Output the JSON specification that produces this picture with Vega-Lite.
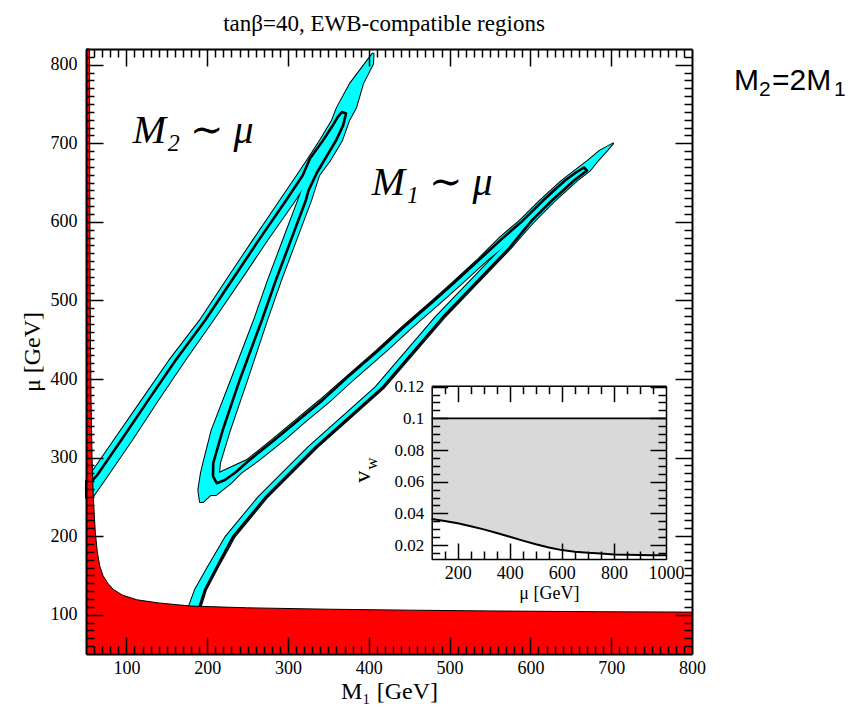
{
  "$schema": "https://vega.github.io/schema/vega-lite/v6.json",
  "width": 606,
  "height": 605,
  "autosize": "none",
  "padding": {"left": 86, "top": 49, "right": 169, "bottom": 56},
  "background": "white",
  "title": {
    "text": "tanβ=40, EWB-compatible regions",
    "font": "Liberation Serif",
    "fontSize": 23,
    "fontWeight": "normal",
    "color": "black",
    "anchor": "middle",
    "offset": 11,
    "dx": -5
  },
  "config": {
    "view": {"stroke": null},
    "axis": {
      "zindex": 1,
      "grid": false,
      "domainColor": "black",
      "domainWidth": 2,
      "tickColor": "black",
      "tickWidth": 1.5,
      "labelColor": "black",
      "labelFont": "Liberation Serif",
      "labelFontSize": 18,
      "labelFlush": false,
      "labelOverlap": false,
      "titleColor": "black",
      "titleFont": "Liberation Serif",
      "titleFontWeight": "normal"
    }
  },
  "datasets": {
    "cyan": [
      {"part": "A", "mu": 248.6, "lo": 50, "hi": 57.4},
      {"part": "A", "mu": 270.0, "lo": 50, "hi": 71.9},
      {"part": "A", "mu": 277.8, "lo": 55.0, "hi": 77.2},
      {"part": "A", "mu": 322.3, "lo": 84.9, "hi": 106.9},
      {"part": "A", "mu": 373.1, "lo": 119.1, "hi": 139.1},
      {"part": "A", "mu": 423.9, "lo": 153.2, "hi": 172.5},
      {"part": "A", "mu": 474.8, "lo": 191.1, "hi": 207.2},
      {"part": "A", "mu": 534.5, "lo": 229.5, "hi": 246.8},
      {"part": "A", "mu": 576.4, "lo": 256.7, "hi": 274.0},
      {"part": "A", "mu": 627.2, "lo": 290.1, "hi": 308.7},
      {"part": "A", "mu": 659.0, "lo": 311.1, "hi": 328.5},
      {"part": "A", "mu": 678.1, "lo": 323.5, "hi": 352.0},
      {"part": "A", "mu": 703.5, "lo": 339.6, "hi": 366.8},
      {"part": "A", "mu": 728.9, "lo": 354.4, "hi": 375.5},
      {"part": "A", "mu": 745.4, "lo": 360.6, "hi": 384.2},
      {"part": "A", "mu": 775.9, "lo": 376.7, "hi": 392.8},
      {"part": "A", "mu": 801.3, "lo": 395.3, "hi": 405.2},
      {"part": "A", "mu": 814.0, "lo": 404.6, "hi": 405.8},
      {"part": "V", "mu": 243.5, "lo": 191.1, "hi": 194.8},
      {"part": "V", "mu": 258.8, "lo": 189.0, "hi": 210.9},
      {"part": "V", "mu": 280.4, "lo": 192.3, "hi": 214.6},
      {"part": "V", "mu": 293.1, "lo": 195.2, "hi": 215.8},
      {"part": "V", "mu": 335.0, "lo": 205.6, "hi": 228.2},
      {"part": "V", "mu": 398.5, "lo": 229.5, "hi": 249.3},
      {"part": "V", "mu": 474.8, "lo": 257.9, "hi": 274.0},
      {"part": "V", "mu": 525.6, "lo": 275.2, "hi": 291.3},
      {"part": "V", "mu": 576.4, "lo": 293.8, "hi": 309.9},
      {"part": "V", "mu": 627.2, "lo": 312.4, "hi": 328.5},
      {"part": "V", "mu": 659.0, "lo": 323.5, "hi": 338.4},
      {"part": "V", "mu": 678.1, "lo": 327.2, "hi": 352.0},
      {"part": "R", "mu": 252.4, "lo": 189.9, "hi": 210.9},
      {"part": "R", "mu": 267.7, "lo": 205.9, "hi": 229.5},
      {"part": "R", "mu": 280.4, "lo": 214.6, "hi": 241.8},
      {"part": "R", "mu": 296.9, "lo": 249.3, "hi": 264.1},
      {"part": "R", "mu": 322.3, "lo": 280.2, "hi": 295.0},
      {"part": "R", "mu": 347.7, "lo": 309.9, "hi": 323.5},
      {"part": "R", "mu": 373.1, "lo": 339.6, "hi": 353.2},
      {"part": "R", "mu": 401.1, "lo": 370.5, "hi": 382.9},
      {"part": "R", "mu": 436.6, "lo": 410.1, "hi": 422.5},
      {"part": "R", "mu": 465.9, "lo": 441.1, "hi": 453.5},
      {"part": "R", "mu": 500.2, "lo": 479.4, "hi": 491.8},
      {"part": "R", "mu": 521.8, "lo": 503.0, "hi": 515.3},
      {"part": "R", "mu": 551.0, "lo": 533.9, "hi": 546.3},
      {"part": "R", "mu": 580.2, "lo": 562.4, "hi": 580.9},
      {"part": "R", "mu": 601.8, "lo": 587.1, "hi": 605.7},
      {"part": "R", "mu": 627.2, "lo": 611.9, "hi": 630.4},
      {"part": "R", "mu": 652.6, "lo": 639.1, "hi": 657.7},
      {"part": "R", "mu": 665.4, "lo": 655.2, "hi": 673.8},
      {"part": "R", "mu": 678.1, "lo": 671.3, "hi": 683.7},
      {"part": "R", "mu": 690.8, "lo": 686.1, "hi": 694.8},
      {"part": "R", "mu": 699.7, "lo": 702.2, "hi": 702.2},
      {"part": "D", "mu": 103.8, "lo": 175.0, "hi": 189.9},
      {"part": "D", "mu": 131.7, "lo": 184.9, "hi": 198.5},
      {"part": "D", "mu": 160.9, "lo": 201.0, "hi": 213.4},
      {"part": "D", "mu": 199.0, "lo": 222.6, "hi": 233.8},
      {"part": "D", "mu": 249.9, "lo": 263.5, "hi": 274.6},
      {"part": "D", "mu": 313.4, "lo": 325.4, "hi": 336.5},
      {"part": "D", "mu": 389.6, "lo": 408.3, "hi": 419.4},
      {"part": "D", "mu": 478.6, "lo": 482.5, "hi": 493.7},
      {"part": "D", "mu": 567.5, "lo": 565.5, "hi": 576.6},
      {"part": "D", "mu": 580.2, "lo": 574.7, "hi": 587.1},
      {"part": "D", "mu": 601.8, "lo": 587.1, "hi": 605.7}
    ],
    "contour": [
      {"i": 1, "m1": 50.0, "mu": 261.3},
      {"i": 2, "m1": 63.9, "mu": 277.8},
      {"i": 3, "m1": 93.7, "mu": 322.3},
      {"i": 4, "m1": 127.1, "mu": 373.1},
      {"i": 5, "m1": 160.9, "mu": 423.9},
      {"i": 6, "m1": 197.5, "mu": 474.8},
      {"i": 7, "m1": 236.4, "mu": 534.5},
      {"i": 8, "m1": 263.6, "mu": 576.4},
      {"i": 9, "m1": 297.5, "mu": 627.2},
      {"i": 10, "m1": 318.1, "mu": 659.0},
      {"i": 11, "m1": 327.2, "mu": 680.6},
      {"i": 12, "m1": 343.3, "mu": 703.5},
      {"i": 13, "m1": 354.5, "mu": 721.3},
      {"i": 14, "m1": 361.9, "mu": 734.0},
      {"i": 15, "m1": 366.8, "mu": 739.7},
      {"i": 16, "m1": 371.8, "mu": 737.8},
      {"i": 17, "m1": 368.1, "mu": 722.5},
      {"i": 18, "m1": 359.4, "mu": 703.5},
      {"i": 19, "m1": 348.3, "mu": 684.4},
      {"i": 20, "m1": 335.9, "mu": 662.8},
      {"i": 21, "m1": 325.4, "mu": 640.0},
      {"i": 22, "m1": 322.0, "mu": 627.2},
      {"i": 23, "m1": 303.5, "mu": 576.4},
      {"i": 24, "m1": 284.9, "mu": 525.6},
      {"i": 25, "m1": 267.6, "mu": 474.8},
      {"i": 26, "m1": 240.1, "mu": 398.5},
      {"i": 27, "m1": 219.2, "mu": 335.0},
      {"i": 28, "m1": 207.5, "mu": 293.1},
      {"i": 29, "m1": 207.2, "mu": 276.5},
      {"i": 30, "m1": 211.8, "mu": 267.3},
      {"i": 31, "m1": 222.0, "mu": 271.5},
      {"i": 32, "m1": 235.6, "mu": 281.6},
      {"i": 33, "m1": 252.3, "mu": 296.9},
      {"i": 34, "m1": 283.3, "mu": 322.3},
      {"i": 35, "m1": 313.0, "mu": 347.7},
      {"i": 36, "m1": 342.7, "mu": 373.1},
      {"i": 37, "m1": 372.4, "mu": 401.1},
      {"i": 38, "m1": 412.0, "mu": 436.6},
      {"i": 39, "m1": 442.9, "mu": 465.9},
      {"i": 40, "m1": 481.3, "mu": 500.2},
      {"i": 41, "m1": 504.8, "mu": 521.8},
      {"i": 42, "m1": 535.8, "mu": 551.0},
      {"i": 43, "m1": 566.7, "mu": 580.2},
      {"i": 44, "m1": 590.8, "mu": 601.8},
      {"i": 45, "m1": 615.6, "mu": 627.2},
      {"i": 46, "m1": 642.8, "mu": 652.6},
      {"i": 47, "m1": 656.4, "mu": 662.8},
      {"i": 48, "m1": 666.3, "mu": 669.2},
      {"i": 49, "m1": 670.0, "mu": 665.4},
      {"i": 50, "m1": 654.0, "mu": 652.6},
      {"i": 51, "m1": 626.7, "mu": 627.2},
      {"i": 52, "m1": 602.0, "mu": 601.8},
      {"i": 53, "m1": 584.6, "mu": 580.2},
      {"i": 54, "m1": 574.7, "mu": 567.5},
      {"i": 55, "m1": 491.8, "mu": 478.6},
      {"i": 56, "m1": 417.6, "mu": 389.6},
      {"i": 57, "m1": 334.6, "mu": 313.4},
      {"i": 58, "m1": 272.8, "mu": 249.9},
      {"i": 59, "m1": 231.9, "mu": 199.0},
      {"i": 60, "m1": 212.1, "mu": 160.9},
      {"i": 61, "m1": 197.3, "mu": 131.7},
      {"i": 62, "m1": 188.6, "mu": 103.8}
    ],
    "excluded": [
      {"m1": 50, "mu": 820},
      {"m1": 54.4, "mu": 820},
      {"m1": 54.5, "mu": 760},
      {"m1": 54.7, "mu": 650},
      {"m1": 55.0, "mu": 540},
      {"m1": 55.5, "mu": 450},
      {"m1": 56.3, "mu": 370},
      {"m1": 57.5, "mu": 300},
      {"m1": 59, "mu": 250},
      {"m1": 61.5, "mu": 205},
      {"m1": 64, "mu": 180},
      {"m1": 67, "mu": 162},
      {"m1": 71, "mu": 150},
      {"m1": 77, "mu": 140},
      {"m1": 84, "mu": 132},
      {"m1": 95, "mu": 125},
      {"m1": 113, "mu": 119},
      {"m1": 140, "mu": 115},
      {"m1": 180, "mu": 111},
      {"m1": 250, "mu": 108.8},
      {"m1": 350, "mu": 107},
      {"m1": 450, "mu": 105.8},
      {"m1": 550, "mu": 104.8},
      {"m1": 686, "mu": 103.8},
      {"m1": 800, "mu": 103.3}
    ],
    "notes": [
      {"m1": 108, "mu": 700, "label": "M₂ ∼ μ"},
      {"m1": 403.6, "mu": 633.6, "label": "M₁ ∼ μ"}
    ],
    "vw": [
      {"mu": 100, "lower": 0.0364, "upper": 0.1},
      {"mu": 150, "lower": 0.0352, "upper": 0.1},
      {"mu": 200, "lower": 0.0337, "upper": 0.1},
      {"mu": 250, "lower": 0.0319, "upper": 0.1},
      {"mu": 300, "lower": 0.0299, "upper": 0.1},
      {"mu": 350, "lower": 0.0276, "upper": 0.1},
      {"mu": 400, "lower": 0.0252, "upper": 0.1},
      {"mu": 450, "lower": 0.0228, "upper": 0.1},
      {"mu": 500, "lower": 0.0205, "upper": 0.1},
      {"mu": 550, "lower": 0.0185, "upper": 0.1},
      {"mu": 600, "lower": 0.0168, "upper": 0.1},
      {"mu": 650, "lower": 0.0158, "upper": 0.1},
      {"mu": 700, "lower": 0.0151, "upper": 0.1},
      {"mu": 750, "lower": 0.0146, "upper": 0.1},
      {"mu": 800, "lower": 0.0141, "upper": 0.1},
      {"mu": 850, "lower": 0.0139, "upper": 0.1},
      {"mu": 900, "lower": 0.0137, "upper": 0.1},
      {"mu": 950, "lower": 0.0136, "upper": 0.1},
      {"mu": 1000, "lower": 0.0135, "upper": 0.1}
    ]
  },
  "layer": [
    {
      "layer": [
        {
          "data": {"name": "cyan"},
          "mark": {"type": "area", "orient": "horizontal", "fill": "#00ffff", "opacity": 1, "stroke": "black", "strokeWidth": 2, "strokeJoin": "round"},
          "encoding": {
            "y": {"field": "mu", "type": "quantitative", "scale": {"domain": [50, 820], "nice": false, "zero": false},
              "axis": {"orient": "left", "zindex": 2, "values": [100, 200, 300, 400, 500, 600, 700, 800], "ticks": false, "labelPadding": 9, "title": "μ [GeV]", "titleFontSize": 24, "titlePadding": 6}},
            "x": {"field": "lo", "type": "quantitative", "scale": {"domain": [50, 800], "nice": false, "zero": false},
              "axis": {"orient": "bottom", "zindex": 2, "values": [100, 200, 300, 400, 500, 600, 700, 800], "ticks": false, "labelPadding": 5, "title": "M₁ [GeV]", "titleFontSize": 24, "titlePadding": 2}},
            "x2": {"field": "hi"},
            "detail": {"field": "part"}
          }
        },
        {
          "data": {"name": "cyan"},
          "mark": {"type": "area", "orient": "horizontal", "fill": "#00ffff", "opacity": 1, "strokeWidth": 0},
          "encoding": {
            "y": {"field": "mu", "type": "quantitative", "scale": {"domain": [50, 820], "nice": false, "zero": false},
              "axis": {"orient": "left", "zindex": 2, "labels": false, "domain": false, "title": null,
                "values": [60, 70, 80, 90, 100, 110, 120, 130, 140, 150, 160, 170, 180, 190, 200, 210, 220, 230, 240, 250, 260, 270, 280, 290, 300, 310, 320, 330, 340, 350, 360, 370, 380, 390, 400, 410, 420, 430, 440, 450, 460, 470, 480, 490, 500, 510, 520, 530, 540, 550, 560, 570, 580, 590, 600, 610, 620, 630, 640, 650, 660, 670, 680, 690, 700, 710, 720, 730, 740, 750, 760, 770, 780, 790, 800, 810],
                "tickSize": {"condition": {"test": "datum.value % 100 === 0", "value": -17}, "value": -8}}},
            "x": {"field": "lo", "type": "quantitative", "scale": {"domain": [50, 800], "nice": false, "zero": false},
              "axis": {"orient": "bottom", "zindex": 2, "labels": false, "domain": false, "title": null,
                "values": [60, 70, 80, 90, 100, 110, 120, 130, 140, 150, 160, 170, 180, 190, 200, 210, 220, 230, 240, 250, 260, 270, 280, 290, 300, 310, 320, 330, 340, 350, 360, 370, 380, 390, 400, 410, 420, 430, 440, 450, 460, 470, 480, 490, 500, 510, 520, 530, 540, 550, 560, 570, 580, 590, 600, 610, 620, 630, 640, 650, 660, 670, 680, 690, 700, 710, 720, 730, 740, 750, 760, 770, 780, 790],
                "tickSize": {"condition": {"test": "datum.value % 100 === 0", "value": -17}, "value": -8}}},
            "x2": {"field": "hi"},
            "detail": {"field": "part"}
          }
        },
        {
          "data": {"name": "contour"},
          "mark": {"type": "line", "color": "black", "strokeWidth": 2.6, "strokeJoin": "round", "strokeCap": "round"},
          "encoding": {
            "x": {"field": "m1", "type": "quantitative", "scale": {"domain": [50, 800], "nice": false, "zero": false},
              "axis": {"orient": "top", "zindex": 2, "labels": false, "title": null,
                "values": [60, 70, 80, 90, 100, 110, 120, 130, 140, 150, 160, 170, 180, 190, 200, 210, 220, 230, 240, 250, 260, 270, 280, 290, 300, 310, 320, 330, 340, 350, 360, 370, 380, 390, 400, 410, 420, 430, 440, 450, 460, 470, 480, 490, 500, 510, 520, 530, 540, 550, 560, 570, 580, 590, 600, 610, 620, 630, 640, 650, 660, 670, 680, 690, 700, 710, 720, 730, 740, 750, 760, 770, 780, 790],
                "tickSize": {"condition": {"test": "datum.value % 100 === 0", "value": -17}, "value": -8}}},
            "y": {"field": "mu", "type": "quantitative", "scale": {"domain": [50, 820], "nice": false, "zero": false},
              "axis": {"orient": "right", "zindex": 2, "labels": false, "title": null,
                "values": [60, 70, 80, 90, 100, 110, 120, 130, 140, 150, 160, 170, 180, 190, 200, 210, 220, 230, 240, 250, 260, 270, 280, 290, 300, 310, 320, 330, 340, 350, 360, 370, 380, 390, 400, 410, 420, 430, 440, 450, 460, 470, 480, 490, 500, 510, 520, 530, 540, 550, 560, 570, 580, 590, 600, 610, 620, 630, 640, 650, 660, 670, 680, 690, 700, 710, 720, 730, 740, 750, 760, 770, 780, 790, 800, 810],
                "tickSize": {"condition": {"test": "datum.value % 100 === 0", "value": -17}, "value": -8}}},
            "order": {"field": "i", "type": "quantitative"}
          }
        },
        {
          "data": {"name": "excluded"},
          "mark": {"type": "area", "color": "#ff0000", "opacity": 1, "line": {"color": "black", "strokeWidth": 1}},
          "encoding": {
            "x": {"field": "m1", "type": "quantitative", "scale": {"domain": [50, 800], "nice": false, "zero": false}, "axis": null},
            "y": {"field": "mu", "type": "quantitative", "scale": {"domain": [50, 820], "nice": false, "zero": false}, "axis": null},
            "y2": {"datum": 50}
          }
        },
        {
          "data": {"name": "notes"},
          "mark": {"type": "text", "font": "Liberation Serif, DejaVu Serif", "fontStyle": "italic", "fontSize": 40, "align": "left", "baseline": "alphabetic", "color": "black"},
          "encoding": {
            "x": {"field": "m1", "type": "quantitative", "scale": {"domain": [50, 800], "nice": false, "zero": false}, "axis": null},
            "y": {"field": "mu", "type": "quantitative", "scale": {"domain": [50, 820], "nice": false, "zero": false}, "axis": null},
            "text": {"field": "label"}
          }
        },
        {
          "data": {"values": [{"main": "M", "sub": "2", "rest": "=2M", "last": "1"}]},
          "encoding": {
            "x": {"datum": 800, "type": "quantitative", "scale": {"domain": [50, 800], "nice": false, "zero": false}, "axis": null},
            "y": {"datum": 820, "type": "quantitative", "scale": {"domain": [50, 820], "nice": false, "zero": false}, "axis": null}
          },
          "layer": [
            {"mark": {"type": "text", "font": "Liberation Sans", "fontSize": 30, "align": "left", "baseline": "alphabetic", "color": "black", "dx": 42, "dy": 41}, "encoding": {"text": {"field": "main"}}},
            {"mark": {"type": "text", "font": "Liberation Sans", "fontSize": 21, "align": "left", "baseline": "alphabetic", "color": "black", "dx": 67, "dy": 47}, "encoding": {"text": {"field": "sub"}}},
            {"mark": {"type": "text", "font": "Liberation Sans", "fontSize": 30, "align": "left", "baseline": "alphabetic", "color": "black", "dx": 80, "dy": 41}, "encoding": {"text": {"field": "rest"}}},
            {"mark": {"type": "text", "font": "Liberation Sans", "fontSize": 21, "align": "left", "baseline": "alphabetic", "color": "black", "dx": 142, "dy": 47}, "encoding": {"text": {"field": "last"}}}
          ]
        }
      ],
      "resolve": {"axis": {"x": "independent", "y": "independent"}}
    },
    {
      "layer": [
        {
          "data": {"name": "vw"},
          "mark": {"type": "area", "fill": "#d9d9d9", "opacity": 1},
          "encoding": {
            "x": {"field": "mu", "type": "quantitative", "scale": {"domain": [100, 1000], "range": [345.7, 580], "nice": false, "zero": false},
              "axis": {"orient": "bottom", "zindex": 2, "offset": -95, "values": [200, 400, 600, 800, 1000], "format": "d", "ticks": false, "domainWidth": 1.5, "labelPadding": 5, "labelFontSize": 18, "title": "μ [GeV]", "titleFontSize": 18, "titlePadding": 2}},
            "y": {"field": "lower", "type": "quantitative", "scale": {"domain": [0.011, 0.1206], "range": [510.3, 336.7], "nice": false, "zero": false},
              "axis": {"orient": "left", "zindex": 2, "offset": -345.7, "values": [0.02, 0.04, 0.06, 0.08, 0.1, 0.12], "format": "~g", "ticks": false, "domainWidth": 1.5, "labelPadding": 8, "labelFontSize": 17, "title": null}},
            "y2": {"field": "upper"}
          }
        },
        {
          "data": {"name": "vw"},
          "mark": {"type": "line", "color": "black", "strokeWidth": 2},
          "encoding": {
            "x": {"field": "mu", "type": "quantitative", "scale": {"domain": [100, 1000], "range": [345.7, 580], "nice": false, "zero": false},
              "axis": {"orient": "bottom", "zindex": 2, "offset": -95, "labels": false, "domain": false, "title": null,
                "values": [150, 200, 250, 300, 350, 400, 450, 500, 550, 600, 650, 700, 750, 800, 850, 900, 950],
                "tickSize": {"condition": {"test": "datum.value % 200 === 0", "value": -16}, "value": -8}}},
            "y": {"field": "lower", "type": "quantitative", "scale": {"domain": [0.011, 0.1206], "range": [510.3, 336.7], "nice": false, "zero": false},
              "axis": {"orient": "left", "zindex": 2, "offset": -345.7, "labels": false, "domain": false, "title": null,
                "values": [0.015, 0.02, 0.025, 0.03, 0.035, 0.04, 0.045, 0.05, 0.055, 0.06, 0.065, 0.07, 0.075, 0.08, 0.085, 0.09, 0.095, 0.1, 0.105, 0.11, 0.115, 0.12],
                "tickSize": {"condition": {"test": "round(datum.value * 1000) % 20 === 0", "value": -16}, "value": -8}}}
          }
        },
        {
          "data": {"name": "vw"},
          "mark": {"type": "line", "color": "black", "strokeWidth": 1.8},
          "encoding": {
            "x": {"field": "mu", "type": "quantitative", "scale": {"domain": [100, 1000], "range": [345.7, 580], "nice": false, "zero": false},
              "axis": {"orient": "top", "zindex": 2, "offset": -336.7, "labels": false, "domainWidth": 1.5, "title": null,
                "values": [150, 200, 250, 300, 350, 400, 450, 500, 550, 600, 650, 700, 750, 800, 850, 900, 950],
                "tickSize": {"condition": {"test": "datum.value % 200 === 0", "value": -16}, "value": -8}}},
            "y": {"field": "upper", "type": "quantitative", "scale": {"domain": [0.011, 0.1206], "range": [510.3, 336.7], "nice": false, "zero": false},
              "axis": {"orient": "right", "zindex": 2, "offset": -26, "labels": false, "domainWidth": 1.5, "title": null,
                "values": [0.015, 0.02, 0.025, 0.03, 0.035, 0.04, 0.045, 0.05, 0.055, 0.06, 0.065, 0.07, 0.075, 0.08, 0.085, 0.09, 0.095, 0.1, 0.105, 0.11, 0.115, 0.12],
                "tickSize": {"condition": {"test": "round(datum.value * 1000) % 20 === 0", "value": -16}, "value": -8}}}
          }
        },
        {
          "data": {"values": [{"v": "v", "w": "w"}]},
          "encoding": {
            "x": {"datum": 100, "type": "quantitative", "scale": {"domain": [100, 1000], "range": [345.7, 580], "nice": false, "zero": false}, "axis": null},
            "y": {"datum": 0.06, "type": "quantitative", "scale": {"domain": [0.011, 0.1206], "range": [510.3, 336.7], "nice": false, "zero": false}, "axis": null}
          },
          "layer": [
            {"mark": {"type": "text", "font": "Liberation Serif", "fontSize": 24, "angle": 270, "align": "left", "baseline": "alphabetic", "color": "black", "dx": -1, "dy": -62}, "encoding": {"text": {"field": "v"}}},
            {"mark": {"type": "text", "font": "Liberation Serif", "fontSize": 17, "angle": 270, "align": "left", "baseline": "alphabetic", "color": "black", "dx": 12, "dy": -55}, "encoding": {"text": {"field": "w"}}}
          ]
        }
      ],
      "resolve": {"axis": {"x": "independent", "y": "independent"}}
    }
  ],
  "resolve": {"scale": {"x": "independent", "y": "independent"}}
}
